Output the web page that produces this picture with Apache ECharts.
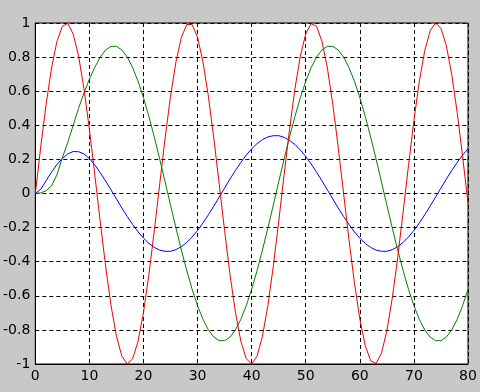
<!DOCTYPE html>
<html>
<head>
<meta charset="utf-8">
<script src="https://cdn.jsdelivr.net/npm/echarts@6/dist/echarts.min.js"></script>
<style>
html,body{margin:0;padding:0;background:#c8c8c8;}
#chart{width:480px;height:392px;}
</style>
</head>
<body>
<div id="chart"></div>
<script>
var xValues = [0,1,2,3,4,5,6,7,8,9,10,11,12,13,14,15,16,17,18,19,20,21,22,23,24,25,26,27,28,29,30,31,32,33,34,35,36,37,38,39,40,41,42,43,44,45,46,47,48,49,50,51,52,53,54,55,56,57,58,59,60,61,62,63,64,65,66,67,68,69,70,71,72,73,74,75,76,77,78,79,80];

var redValues = [0,0.272,0.524,0.736,0.892,0.981,0.997,0.936,0.806,0.614,0.376,0.110,-0.165,-0.427,-0.657,-0.837,-0.954,-1.000,-0.969,-0.866,-0.697,-0.476,-0.218,0.055,0.325,0.570,0.772,0.916,0.991,0.991,0.916,0.772,0.570,0.325,0.055,-0.218,-0.476,-0.697,-0.866,-0.969,-1.000,-0.954,-0.837,-0.657,-0.427,-0.165,0.110,0.376,0.614,0.806,0.937,0.997,0.981,0.892,0.736,0.524,0.272,0,-0.272,-0.524,-0.736,-0.892,-0.981,-0.997,-0.937,-0.806,-0.614,-0.376,-0.110,0.165,0.427,0.657,0.837,0.954,1.000,0.969,0.866,0.697,0.476,0.218,-0.055];

var greenValues = [0,0.004,0.016,0.045,0.11,0.21,0.30,0.40,0.50,0.59,0.67,0.74,0.800,0.842,0.863,0.863,0.842,0.800,0.738,0.658,0.562,0.452,0.331,0.202,0.068,-0.068,-0.202,-0.331,-0.452,-0.562,-0.658,-0.738,-0.800,-0.842,-0.863,-0.863,-0.842,-0.800,-0.738,-0.658,-0.562,-0.452,-0.331,-0.202,-0.068,0.068,0.202,0.331,0.452,0.562,0.658,0.738,0.800,0.842,0.863,0.863,0.842,0.800,0.738,0.658,0.562,0.452,0.331,0.202,0.068,-0.068,-0.202,-0.331,-0.452,-0.562,-0.658,-0.738,-0.800,-0.842,-0.863,-0.863,-0.842,-0.800,-0.738,-0.658,-0.562];

var blueValues = [0,0.025,0.075,0.125,0.17,0.205,0.232,0.246,0.245,0.232,0.205,0.168,0.122,0.073,0.021,-0.032,-0.085,-0.135,-0.182,-0.225,-0.262,-0.293,-0.316,-0.332,-0.339,-0.339,-0.329,-0.312,-0.287,-0.255,-0.217,-0.173,-0.125,-0.074,-0.021,0.032,0.085,0.135,0.182,0.225,0.262,0.293,0.316,0.332,0.339,0.339,0.329,0.312,0.287,0.255,0.217,0.173,0.125,0.074,0.021,-0.032,-0.085,-0.135,-0.182,-0.225,-0.262,-0.293,-0.316,-0.332,-0.339,-0.339,-0.329,-0.312,-0.287,-0.255,-0.217,-0.173,-0.125,-0.074,-0.021,0.032,0.085,0.135,0.182,0.225,0.262];

function pairs(vals){ return xValues.map(function(x,i){ return [x, vals[i]]; }); }

var chart = echarts.init(document.getElementById('chart'), null, {renderer:'canvas'});
var labelStyle = {color:'#000', fontFamily:'DejaVu Sans', fontSize:14};
var gridLine = {show:true, lineStyle:{color:'#000', width:1, type:[4,3]}};
chart.setOption({
  animation:false,
  backgroundColor:'#c8c8c8',
  grid:{left:34, right:12, top:23, bottom:28, show:true, backgroundColor:'#fff', borderColor:'#000', borderWidth:1, containLabel:false},
  xAxis:{type:'value', min:0, max:80, interval:10,
    axisLine:{show:true, onZero:false, lineStyle:{color:'#000'}}, axisTick:{show:false},
    axisLabel:Object.assign({margin:5}, labelStyle), splitLine:gridLine},
  yAxis:{type:'value', min:-1, max:1, interval:0.2,
    axisLine:{show:true, onZero:false, lineStyle:{color:'#000'}}, axisTick:{show:false},
    axisLabel:Object.assign({margin:5}, labelStyle), splitLine:gridLine},
  series:[
    {type:'line', data:pairs(blueValues), showSymbol:false, lineStyle:{color:'#0000ff', width:1}, z:3},
    {type:'line', data:pairs(greenValues), showSymbol:false, lineStyle:{color:'#008000', width:1}, z:4},
    {type:'line', data:pairs(redValues), showSymbol:false, lineStyle:{color:'#ee0000', width:1}, z:5}
  ]
});
</script>
</body>
</html>
